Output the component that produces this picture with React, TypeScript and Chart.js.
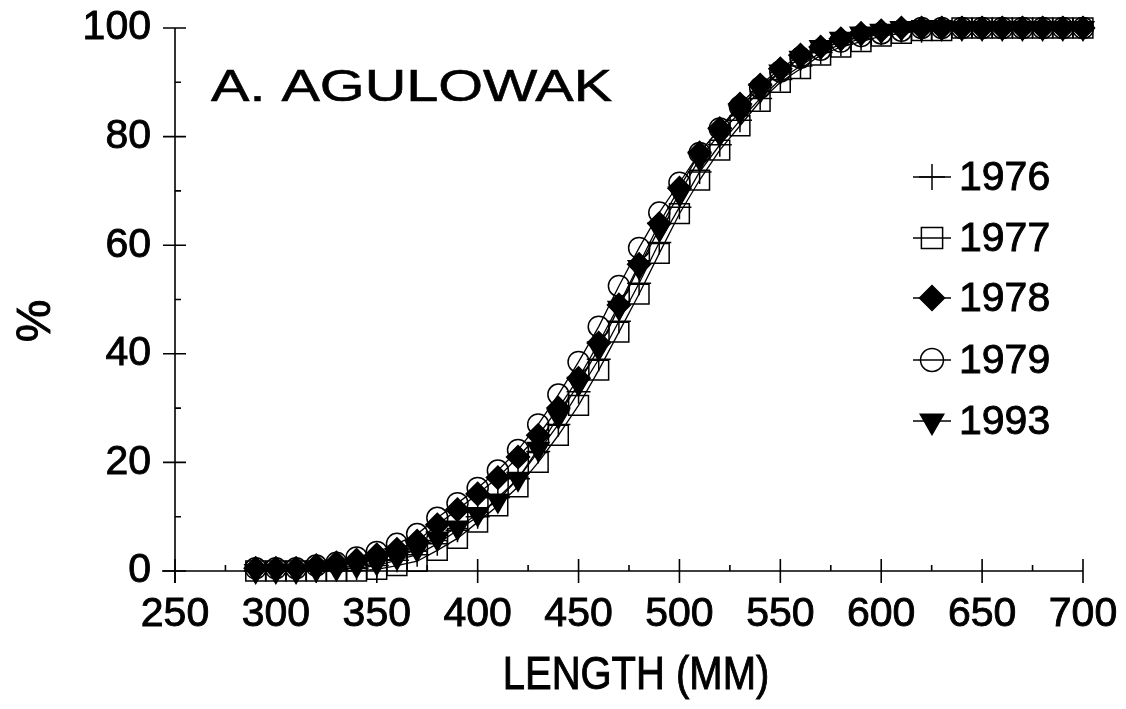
import React, { useEffect, useRef } from 'react';
import { Chart, registerables } from 'chart.js';
import { drawPoint } from 'chart.js/helpers';

Chart.register(...registerables);

const lengths = [290, 300, 310, 320, 330, 340, 350, 360, 370, 380, 390, 400, 410, 420, 430, 440, 450, 460, 470, 480, 490, 500, 510, 520, 530, 540, 550, 560, 570, 580, 590, 600, 610, 620, 630, 640, 650, 660, 670, 680, 690, 700];

const pct1976 = [0, 0, 0, 0, 0.3, 0.5, 1, 2, 3, 5, 7.5, 10, 13.5, 17, 22, 27, 33, 39, 46, 53, 60.5, 67, 73.5, 78.5, 83, 87, 90.5, 93, 95.5, 97, 98, 99, 99.5, 99.5, 100, 100, 100, 100, 100, 100, 100, 100];
const pct1977 = [0, 0, 0, 0, 0, 0, 0.3, 1, 1.8, 3.8, 6, 9, 12, 15.5, 20, 25, 30.5, 37, 44, 51, 58.5, 65.8, 72, 77.5, 82, 86.5, 90, 92.5, 95, 96.5, 97.5, 98.5, 99, 99.5, 99.5, 100, 100, 100, 100, 100, 100, 100];
const pct1978 = [0.5, 0.5, 0.5, 1, 1.5, 2, 3, 4, 5.5, 8.5, 11.3, 14.2, 17.2, 21, 25, 30, 35.5, 42, 49, 56.5, 64, 70.5, 77, 81.5, 86, 89.5, 92.5, 95, 96.5, 98, 99, 99.5, 100, 100, 100, 100, 100, 100, 100, 100, 100, 100];
const pct1979 = [0.5, 0.5, 0.5, 1, 1.5, 2.5, 3.5, 5, 6.8, 9.8, 12.5, 15.3, 18.5, 22.3, 27, 32.5, 38.5, 45, 52.5, 59.5, 66, 71.5, 77, 81.5, 85.5, 89, 92, 94.5, 96, 97.5, 98.5, 99, 99.5, 100, 100, 100, 100, 100, 100, 100, 100, 100];
const pct1993 = [0, 0, 0, 0.3, 0.5, 1, 1.5, 2.5, 4, 6, 8, 10.5, 13, 17, 22.5, 28.5, 34.5, 41, 48.5, 56, 63, 69.5, 76, 80.5, 84.5, 88.5, 92, 94.5, 96.5, 98, 99, 99.5, 100, 100, 100, 100, 100, 100, 100, 100, 100, 100];

const seriesNames = ['1976', '1977', '1978', '1979', '1993'];
const xTickValues = [250, 300, 350, 400, 450, 500, 550, 600, 650, 700];
const yTickValues = [0, 20, 40, 60, 80, 100];
const chartTitle = 'A. AGULOWAK';
const xTitle = 'LENGTH (MM)';
const yTitle = '%';

const FONT = '"Liberation Sans", Arial, Helvetica, sans-serif';

const markerStyles = [
  { pointStyle: 'cross', radius: 12, rotation: 0, fill: 'rgba(0,0,0,0)' },
  { pointStyle: 'rect', radius: 14, rotation: 0, fill: 'rgba(0,0,0,0)' },
  { pointStyle: 'rectRot', radius: 11.5, rotation: 0, fill: '#000' },
  { pointStyle: 'circle', radius: 10.5, rotation: 0, fill: 'rgba(0,0,0,0)' },
  { pointStyle: 'triangle', radius: 12.5, rotation: 180, fill: '#000' },
];

function boldText(ctx: any, text: string, x: number, y: number, w = 0.9) {
  ctx.fillText(text, x, y);
  ctx.lineWidth = w;
  ctx.strokeStyle = '#000';
  ctx.strokeText(text, x, y);
}

const decorPlugin = {
  id: 'decor',
  beforeDatasetsDraw(chart: any) {
    const ctx = chart.ctx;
    const xs = chart.scales.x;
    const ys = chart.scales.y;
    const x0 = xs.getPixelForValue(250);
    const x1 = xs.getPixelForValue(700);
    const y0 = ys.getPixelForValue(0);
    const y1 = ys.getPixelForValue(100);
    ctx.save();
    ctx.strokeStyle = '#000';
    ctx.lineWidth = 1.6;
    ctx.beginPath();
    ctx.moveTo(x0, y1);
    ctx.lineTo(x0, y0 + 12);
    ctx.moveTo(x0 - 13, y0);
    ctx.lineTo(x1, y0);
    ctx.stroke();
    ctx.beginPath();
    for (const v of xTickValues) {
      const p = xs.getPixelForValue(v);
      ctx.moveTo(p, y0 - 12);
      ctx.lineTo(p, y0 + 12);
      if (v < 700) {
        const m = xs.getPixelForValue(v + 25);
        ctx.moveTo(m, y0 - 6);
        ctx.lineTo(m, y0);
      }
    }
    for (const v of yTickValues) {
      const p = ys.getPixelForValue(v);
      ctx.moveTo(x0 - 12, p);
      ctx.lineTo(x0 + 11, p);
      if (v < 100) {
        const m = ys.getPixelForValue(v + 10);
        ctx.moveTo(x0, m);
        ctx.lineTo(x0 + 6, m);
      }
    }
    ctx.stroke();
    ctx.restore();
  },
  afterDraw(chart: any) {
    const ctx = chart.ctx;
    ctx.save();
    ctx.fillStyle = '#000';
    // chart title inside plot
    ctx.font = `45px ${FONT}`;
    ctx.textBaseline = 'alphabetic';
    ctx.textAlign = 'left';
    ctx.save();
    ctx.translate(211, 101);
    ctx.scale(1.28, 1);
    boldText(ctx, chartTitle, 0, 0, 0.6);
    ctx.restore();
    // x title
    ctx.font = `43px ${FONT}`;
    ctx.textAlign = 'center';
    ctx.save();
    ctx.translate(636, 689);
    ctx.scale(0.93, 1.08);
    boldText(ctx, xTitle, 0, 0);
    ctx.restore();
    // y title
    ctx.save();
    ctx.translate(50, 321);
    ctx.rotate(-Math.PI / 2);
    ctx.font = `48px ${FONT}`;
    ctx.textAlign = 'center';
    boldText(ctx, yTitle, 0, 0);
    ctx.restore();
    // legend
    const rows = [177, 238, 298, 360, 421];
    chart.data.datasets.forEach((ds: any, i: number) => {
      const y = rows[i];
      const ms = markerStyles[i];
      ctx.strokeStyle = '#000';
      ctx.lineWidth = 1.5;
      ctx.beginPath();
      ctx.moveTo(913, y);
      ctx.lineTo(951, y);
      ctx.stroke();
      ctx.fillStyle = ms.fill;
      ctx.strokeStyle = '#000';
      ctx.lineWidth = 1.5;
      drawPoint(ctx, { pointStyle: ms.pointStyle, radius: ms.radius + 1, rotation: ms.rotation, borderWidth: 1.5 } as any, 932, y);
      ctx.fillStyle = '#000';
      ctx.font = `41px ${FONT}`;
      ctx.textAlign = 'left';
      ctx.textBaseline = 'middle';
      boldText(ctx, ds.label, 959, y + 2);
    });
    ctx.restore();
  },
};

export default function App() {
  const ref = useRef<HTMLCanvasElement | null>(null);
  useEffect(() => {
    if (!ref.current) return;
    const allSeries = [pct1976, pct1977, pct1978, pct1979, pct1993];
    const datasets = allSeries.map((vals, i) => {
      const ms = markerStyles[i];
      return {
        label: seriesNames[i],
        data: lengths.map((x, j) => ({ x, y: vals[j] })),
        borderColor: '#000',
        borderWidth: 1.3,
        backgroundColor: ms.fill,
        pointBackgroundColor: ms.fill,
        pointBorderColor: '#000',
        pointBorderWidth: 1.5,
        pointStyle: ms.pointStyle,
        pointRadius: ms.radius,
        pointRotation: ms.rotation,
        pointHoverRadius: ms.radius,
        tension: 0,
        fill: false,
        clip: false as any,
      };
    });
    const chart = new Chart(ref.current, {
      type: 'line',
      data: { datasets: datasets as any },
      options: {
        responsive: false,
        animation: false,
        events: [],
        layout: { padding: { top: 28, right: 43, left: 0, bottom: 0 } },
        plugins: { legend: { display: false }, tooltip: { enabled: false }, title: { display: false } },
        scales: {
          x: {
            type: 'linear',
            min: 250,
            max: 700,
            afterFit: (s: any) => { s.height = 138; s.paddingLeft = 0; s.paddingRight = 0; },
            afterBuildTicks: (s: any) => { s.ticks = xTickValues.map((v) => ({ value: v })); },
            grid: { display: false, drawTicks: false },
            border: { display: false },
            ticks: {
              color: '#000',
              padding: 19,
              maxRotation: 0,
              autoSkip: false,
              textStrokeColor: '#000',
              textStrokeWidth: 0.9,
              font: { family: FONT, size: 41 },
            },
          },
          y: {
            type: 'linear',
            min: 0,
            max: 100,
            afterFit: (s: any) => { s.width = 175; s.paddingTop = 0; s.paddingBottom = 0; },
            afterBuildTicks: (s: any) => { s.ticks = yTickValues.map((v) => ({ value: v })); },
            grid: { display: false, drawTicks: false },
            border: { display: false },
            ticks: {
              color: '#000',
              padding: 24,
              autoSkip: false,
              textStrokeColor: '#000',
              textStrokeWidth: 0.9,
              font: { family: FONT, size: 41 },
            },
          },
        },
      },
      plugins: [decorPlugin],
    });
    return () => chart.destroy();
  }, []);
  return (
    <div style={{ position: 'fixed', left: 0, top: 0, width: 1126, height: 709, background: '#fff' }}>
      <canvas ref={ref} width={1126} height={709} style={{ display: 'block', width: 1126, height: 709 }} />
    </div>
  );
}
